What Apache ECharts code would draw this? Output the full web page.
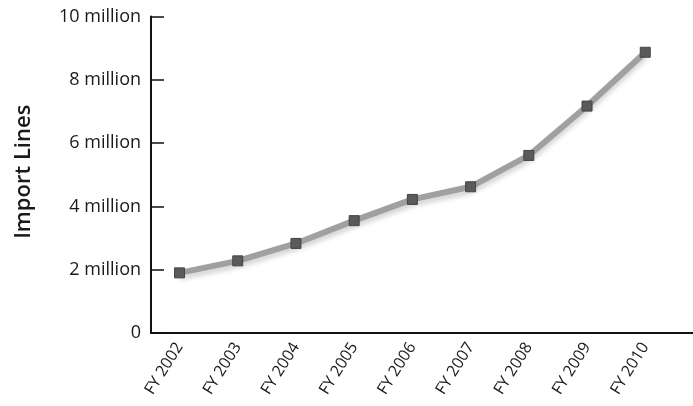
<!DOCTYPE html>
<html>
<head>
<meta charset="utf-8">
<script src="https://cdn.jsdelivr.net/npm/echarts@6/dist/echarts.min.js"></script>
<style>
html,body{margin:0;padding:0;background:#fff;}
#chart{width:693px;height:406px;}
</style>
</head>
<body>
<div id="chart"></div>
<script>
const categories = ['FY 2002','FY 2003','FY 2004','FY 2005','FY 2006','FY 2007','FY 2008','FY 2009','FY 2010'];
const importLines = [1900000, 2280000, 2830000, 3550000, 4220000, 4620000, 5610000, 7170000, 8870000];
const yTicks = [0, 2000000, 4000000, 6000000, 8000000, 10000000];

const chart = echarts.init(document.getElementById('chart'));
const font = '"Open Sans", Lato, sans-serif';
chart.setOption({
  backgroundColor: '#fff',
  animation: false,
  grid: { left: 151, right: 0, top: 16.5, bottom: 73 },
  xAxis: {
    type: 'value',
    min: -0.49,
    max: 8.82,
    axisLine: { show: true, onZero: false, lineStyle: { color: '#111', width: 2 } },
    axisTick: { show: false },
    splitLine: { show: false },
    axisLabel: {
      customValues: categories.map((c, i) => i),
      formatter: v => categories[Math.round(v)] || '',
      rotate: 58,
      margin: 11,
      color: '#1a1a1a',
      fontSize: 16,
      fontFamily: font
    }
  },
  yAxis: {
    type: 'value',
    min: 0,
    max: 10000000,
    interval: 2000000,
    name: 'Import Lines',
    nameLocation: 'middle',
    nameGap: 116,
    nameTextStyle: { color: '#1a1a1a', fontSize: 22, fontWeight: 600, fontFamily: font, padding: [0, 0, 0, 6] },
    axisLine: { show: true, onZero: false, lineStyle: { color: '#111', width: 2 } },
    axisTick: { show: true, inside: true, length: 13, lineStyle: { color: '#111', width: 1.5 } },
    splitLine: { show: false },
    axisLabel: {
      customValues: yTicks,
      formatter: v => v === 0 ? '0' : (v / 1000000) + ' million',
      color: '#1a1a1a',
      fontSize: 18,
      fontFamily: font,
      margin: 10
    }
  },
  series: [{
    type: 'line',
    data: importLines.map((v, i) => [i, v]),
    symbol: 'rect',
    symbolSize: 10,
    lineStyle: { color: '#a0a0a0', width: 6, shadowColor: 'rgba(0,0,0,0.18)', shadowBlur: 5, shadowOffsetY: 4 },
    itemStyle: { color: '#5a5a5a', borderColor: '#444', borderWidth: 1 }
  }]
});
</script>
</body>
</html>
